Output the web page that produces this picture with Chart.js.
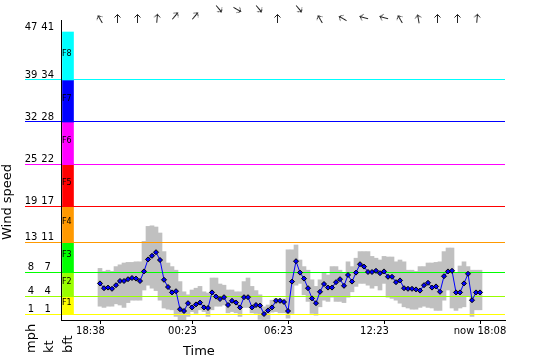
<!DOCTYPE html>
<html>
<head>
<meta charset="UTF-8">
<title>Wind speed</title>
<script src="https://cdn.jsdelivr.net/npm/chart.js"></script>
<style>
    body { margin: 0; background: #fff; }
    canvas { display: block; }
</style>
</head>
<body>
<canvas id="wind" width="550" height="360"></canvas>
<script>
// one sample every 15 minutes, index 0 = 18:38
const avgSpeed = [
    6.1, 5.3, 5.4, 5.2, 5.8, 6.5, 6.5, 6.8, 7.0, 6.9,
    6.5, 8.1, 10.1, 10.7, 11.3, 10.0, 6.7, 5.5, 4.6, 4.8,
    1.8, 1.5, 2.8, 2.1, 2.6, 2.9, 2.1, 2.0, 4.6, 3.9,
    3.5, 3.8, 2.5, 3.2, 2.9, 2.1, 3.8, 3.8, 2.1, 2.5,
    2.4, 1.0, 1.6, 2.1, 3.2, 3.2, 3.0, 1.5, 6.4, 9.8,
    7.9, 6.9, 5.3, 3.6, 2.8, 4.7, 6.0, 5.4, 5.4, 6.3,
    6.8, 5.7, 7.5, 6.4, 7.9, 9.3, 8.9, 8.0, 8.0, 8.2,
    7.8, 8.1, 7.2, 7.2, 6.3, 6.6, 5.3, 5.2, 5.2, 5.1,
    4.9, 5.8, 6.2, 5.4, 5.6, 4.7, 7.3, 8.1, 8.2, 4.6,
    4.6, 6.1, 7.7, 3.3, 4.6, 4.6
];
const maxSpeed = [
    8.6, 8.1, 8.3, 8.1, 8.9, 9.2, 9.5, 9.6, 9.6, 9.7,
    9.7, 13.1, 15.6, 15.7, 15.5, 14.5, 11.4, 9.5, 8.9, 8.3,
    6.4, 4.7, 4.2, 5.0, 5.3, 5.6, 4.7, 4.5, 7.0, 7.0,
    6.0, 5.8, 5.0, 5.0, 4.7, 4.7, 6.4, 7.0, 5.6, 4.9,
    4.2, 2.2, 2.5, 3.3, 3.6, 3.5, 3.5, 11.7, 11.7, 12.5,
    10.0, 8.9, 8.3, 6.7, 5.6, 6.7, 7.8, 7.5, 8.9, 8.9,
    8.3, 7.8, 9.7, 8.9, 10.3, 11.4, 11.4, 11.4, 10.6, 10.3,
    10.0, 10.6, 10.5, 10.5, 9.7, 10.0, 9.7, 8.3, 8.3, 8.1,
    8.9, 8.9, 9.5, 9.5, 9.6, 9.7, 11.4, 12.0, 12.0, 7.8,
    9.0, 9.7, 8.9, 8.3, 8.3, 8.3
];
const minSpeed = [
    2.3, 2.1, 2.3, 2.3, 2.7, 2.5, 2.1, 2.9, 3.3, 3.3,
    3.3, 5.0, 5.8, 5.3, 4.9, 3.3, 2.0, 1.8, 1.7, 0.6,
    0.0, 0.0, 0.6, 1.4, 1.1, 1.7, 1.4, 0.6, 1.7, 2.3,
    2.3, 2.5, 1.2, 1.4, 1.2, 0.6, 2.1, 2.1, 1.2, 1.1,
    0.1, 0.0, 0.1, 1.3, 1.4, 1.2, 1.2, 0.3, 1.1, 5.8,
    6.1, 4.2, 3.1, 1.1, 0.8, 2.2, 3.3, 3.1, 3.8, 3.1,
    3.1, 2.9, 3.8, 4.7, 5.6, 6.1, 6.1, 5.8, 5.3, 5.7,
    5.0, 6.1, 3.8, 3.6, 3.3, 2.8, 2.2, 2.0, 1.8, 1.8,
    2.1, 2.3, 2.1, 2.0, 1.6, 1.6, 3.3, 5.0, 2.0, 1.6,
    2.0, 2.2, 3.9, 0.6, 1.7, 1.7
];

// wind direction arrows (sample index, degrees the arrow points to)
const arrowAt = [0, 5, 10, 15, 20, 25, 30, 35, 40, 45, 50, 55, 60, 65, 70, 75, 80, 85, 90, 95];
const arrowDir = [330, 0, 0, 5, 40, 40, 140, 120, 140, 0, 140, 330, 300, 285, 285, 330, 350, 0, 0, 5];

const xTickAt = [0, 23, 47, 71, 95];
const xTickLabels = ['18:38', '00:23', '06:23', '12:23', 'now 18:08'];

// beaufort limits
const lineAt = [1, 4, 8, 13, 19, 26, 33, 40, 48];
const mphLabels = ['1', '4', '8', '13', '19', '25', '32', '39', '47'];
const ktLabels = ['1', '4', '7', '11', '17', '22', '28', '34', '41'];
const bftNames = ['F1', 'F2', 'F3', 'F4', 'F5', 'F6', 'F7', 'F8'];
const bftLow = [1, 4, 8, 13, 19, 26, 33, 40];
const bftHigh = [4, 8, 13, 19, 26, 33, 40, 48];
const bftColors = ['#FFFF00', '#99FF00', '#00FF00', '#FF9900', '#FF0000', '#FF00FF', '#0000FF', '#00FFFF'];

Chart.defaults.font.family = '"DejaVu Sans", Verdana, sans-serif';
Chart.defaults.font.size = 10;
Chart.defaults.color = '#000';

function arrowImage() {
    // pivot is the canvas centre, arrow sits a bit off it so it swings when rotated
    const c = document.createElement('canvas');
    c.width = 24;
    c.height = 24;
    const g = c.getContext('2d');
    g.strokeStyle = '#222';
    g.lineWidth = 1;
    g.beginPath();
    g.moveTo(9.5, 21);
    g.lineTo(9.5, 12.5);
    g.moveTo(6.5, 15.5);
    g.lineTo(9.5, 12.5);
    g.lineTo(12.5, 15.5);
    g.stroke();
    return c;
}

function setTicks(values) {
    return scale => { scale.ticks = values.map(v => ({ value: v })); };
}

// clock labels sit a little left of their tick, the "now" one does not
function xLabel(v) {
    const txt = xTickLabels[xTickAt.indexOf(v)];
    return txt.startsWith('now') ? txt : txt + '      ';
}

const extras = {
    id: 'extras',
    afterDatasetDraw(chart, args) {
        // beaufort lines go over the gust bars but under the average line
        if (args.index === 1) chart.scales.y.drawGrid(chart.chartArea);
    },
    afterDraw(chart) {
        const ctx = chart.ctx;
        const y = chart.scales.y;
        ctx.save();
        ctx.fillStyle = '#000';

        // mph column next to the kt tick labels
        ctx.font = '10px "DejaVu Sans"';
        ctx.textAlign = 'center';
        ctx.textBaseline = 'middle';
        lineAt.forEach((v, i) => ctx.fillText(mphLabels[i], 31, y.getPixelForValue(v) - 5));

        ctx.textAlign = 'left';
        ctx.textBaseline = 'alphabetic';
        ctx.font = '8px "DejaVu Sans"';
        bftNames.forEach((name, i) => {
            const mid = (y.getPixelForValue(bftLow[i]) + y.getPixelForValue(bftHigh[i])) / 2;
            ctx.fillText(name, 62, mid);
        });

        ctx.font = '13px "DejaVu Sans"';
        ctx.fillText('Time', 183, 355);

        const rotated = [['Wind speed', 11, 240], ['mph', 35, 353], ['kt', 53, 353], ['bft', 72, 353]];
        rotated.forEach(([txt, x, yy]) => {
            ctx.save();
            ctx.translate(x, yy);
            ctx.rotate(-Math.PI / 2);
            ctx.fillText(txt, 0, 0);
            ctx.restore();
        });
        ctx.restore();
    }
};

new Chart(document.getElementById('wind'), {
    type: 'line',
    data: {
        datasets: [
            {
                type: 'line',
                data: avgSpeed.map((v, i) => ({ x: i, y: v })),
                borderColor: '#0000FF',
                borderWidth: 1,
                tension: 0,
                pointStyle: 'rectRot',
                pointRadius: 2.5,
                pointBackgroundColor: '#0000FF',
                pointBorderColor: '#000',
                pointBorderWidth: 1,
                order: 0
            },
            {
                type: 'bar',
                data: minSpeed.map((lo, i) => ({ x: i, y: [lo, maxSpeed[i]] })),
                backgroundColor: '#C0C0C0',
                borderWidth: 0,
                barPercentage: 1,
                categoryPercentage: 1,
                grouped: false,
                order: 1
            },
            {
                type: 'bar',
                data: bftLow.map((lo, i) => ({ x: -8, y: [lo, bftHigh[i]] })),
                backgroundColor: bftColors,
                borderWidth: 0,
                barThickness: 11,
                grouped: false,
                order: 2
            },
            {
                type: 'scatter',
                data: arrowAt.map(i => ({ x: i, y: 51 })),
                pointStyle: arrowImage(),
                rotation: arrowDir,
                pointRadius: 12,
                clip: false,
                order: 3
            }
        ]
    },
    options: {
        responsive: false,
        animation: false,
        layout: { padding: { left: 0, right: 45, top: 20, bottom: 0 } },
        plugins: { legend: { display: false }, tooltip: { enabled: false } },
        scales: {
            x: {
                type: 'linear',
                min: -9.75,
                max: 101.25,
                offset: false,
                afterBuildTicks: setTicks(xTickAt),
                afterFit: s => { s.height = 40; },
                ticks: {
                    autoSkip: false,
                    maxRotation: 0,
                    padding: 1,
                    callback: xLabel
                },
                grid: { drawOnChartArea: false, offset: false, tickLength: 4, color: '#000' },
                border: { color: '#000' }
            },
            y: {
                position: 'left',
                min: 0,
                max: 50,
                afterBuildTicks: setTicks(lineAt),
                afterFit: s => { s.width = 61; },
                ticks: {
                    autoSkip: false,
                    crossAlign: 'center',
                    padding: -29,
                    labelOffset: -5,
                    callback: v => ktLabels[lineAt.indexOf(v)]
                },
                grid: {
                    tickLength: 36,
                    lineWidth: 1,
                    color: c => bftColors[c.index] || 'rgba(0,0,0,0)'
                },
                border: { color: '#000' }
            }
        }
    },
    plugins: [extras]
});
</script>
</body>
</html>
